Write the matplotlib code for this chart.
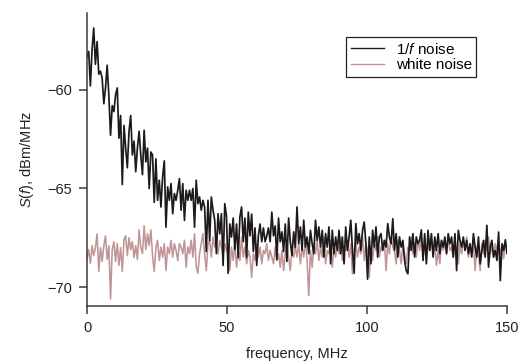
import numpy as np
import matplotlib
matplotlib.use("Agg")
import matplotlib.pyplot as plt

plt.rcParams["font.family"] = ["Liberation Sans", "DejaVu Sans"]
plt.rcParams["mathtext.fontset"] = "custom"
plt.rcParams["mathtext.it"] = "Liberation Sans:italic"
plt.rcParams["mathtext.rm"] = "Liberation Sans"

# spectral density, dBm/MHz, uniform grid 0..150 MHz
one_over_f = [
    -58.3, -58.05, -59.8, -57.96, -56.86, -58.7, -57.55, -59.2, -59.05, -59.4,
    -60.7, -59.9, -58.75, -60.3, -62.3, -60.8, -61.1, -60.25, -59.9, -62.45,
    -61.3, -64.8, -61.8, -62.95, -63.95, -62.1, -61.3, -63.3, -62.6, -64.15,
    -62.95, -62.1, -63.3, -64.3, -62.05, -63.65, -62.95, -65.0, -63.15, -63.3,
    -65.7, -63.5, -65.6, -64.58, -65.94, -64.41, -63.6, -66.96, -64.92, -65.6,
    -64.75, -66.28, -65.26, -65.6, -65.09, -64.5, -66.1, -64.75, -66.62, -65.09,
    -65.6, -65.09, -65.6, -65.0, -66.96, -64.58, -65.77, -65.43, -66.1, -65.6,
    -65.94, -68.2, -65.6, -67.64, -65.43, -66.1, -66.6, -68.3, -66.28, -67.3,
    -66.28, -68.9, -65.77, -66.4, -69.3, -66.8, -67.46, -66.5, -68.1, -66.8,
    -68.5, -66.44, -65.94, -67.7, -66.5, -68.5, -66.2, -67.4, -66.3, -68.2,
    -67.0, -68.9, -67.4, -66.8, -67.7, -67.0, -67.7, -67.4, -67.0, -67.7,
    -66.2, -67.4, -66.9, -68.6, -66.5, -67.7, -67.2, -68.2, -66.8, -68.7,
    -66.5, -67.7, -68.4, -67.2, -68.0, -65.94, -67.8, -66.95, -68.14, -66.61,
    -67.97, -67.46, -68.31, -67.12, -67.8, -68.31, -66.61, -67.63, -66.95, -67.97,
    -67.12, -68.48, -67.29, -67.97, -66.95, -68.82, -67.12, -68.31, -67.46, -68.14,
    -67.12, -68.31, -67.46, -68.82, -66.95, -68.14, -67.46, -66.61, -68.14, -69.3,
    -66.78, -67.8, -67.29, -68.14, -67.12, -66.7, -67.8, -69.6, -67.46, -68.82,
    -67.12, -67.97, -66.95, -68.48, -67.46, -67.29, -68.14, -67.63, -67.97, -66.78,
    -67.46, -67.8, -66.53, -68.14, -67.29, -68.48, -67.46, -67.97, -67.63, -68.65,
    -69.16, -69.33, -67.46, -68.14, -67.29, -68.48, -67.46, -67.8, -67.63, -67.1,
    -68.65, -67.29, -68.82, -67.12, -68.14, -67.29, -68.48, -67.46, -68.14, -67.29,
    -68.31, -67.63, -67.97, -67.46, -68.31, -67.29, -67.8, -67.46, -68.48, -67.29,
    -69.16, -67.12, -67.63, -67.97, -67.46, -68.14, -67.63, -68.31, -67.8, -68.48,
    -67.29, -67.97, -68.48, -67.46, -68.82, -68.14, -67.63, -68.48, -66.87, -68.99,
    -67.97, -67.63, -68.48, -68.14, -68.65, -67.21, -69.67, -67.8, -68.14, -67.6,
    -68.3,
]

white = [
    -68.6, -68.1, -68.8, -67.9, -68.4, -68.0, -67.3, -69.2, -68.0, -68.7,
    -67.9, -67.4, -68.6, -67.9, -70.6, -68.1, -67.7, -68.7, -67.8, -68.9,
    -68.0, -69.2, -67.6, -67.4, -68.4, -67.5, -68.1, -67.7, -68.5, -67.9,
    -68.6, -67.1, -68.0, -68.3, -66.9, -68.1, -67.3, -67.9, -67.1, -68.4,
    -69.2, -68.0, -67.63, -68.65, -67.97, -68.48, -67.8, -69.16, -67.97, -68.31,
    -67.63, -68.48, -67.8, -68.14, -68.65, -67.8, -67.97, -68.31, -67.63, -68.99,
    -67.97, -68.31, -67.63, -68.48, -67.29, -68.99, -69.3, -68.31, -67.8, -67.29,
    -68.31, -69.16, -67.8, -67.63, -68.48, -67.46, -67.97, -67.8, -68.31, -67.63,
    -67.97, -68.48, -67.8, -68.14, -68.31, -69.16, -67.97, -68.65, -67.8, -68.99,
    -68.14, -68.65, -67.46, -68.48, -67.97, -68.82, -68.14, -68.48, -69.5, -68.31,
    -68.65, -67.8, -68.48, -67.97, -68.82, -68.14, -68.31, -67.8, -68.65, -68.14,
    -68.48, -68.82, -67.97, -68.65, -68.31, -68.99, -68.14, -69.16, -68.31, -67.8,
    -68.48, -69.16, -68.14, -68.48, -67.97, -68.48, -67.8, -68.82, -67.97, -68.48,
    -67.63, -68.65, -70.43, -68.14, -68.99, -67.8, -68.31, -67.63, -68.65, -67.97,
    -68.48, -67.46, -68.82, -68.14, -68.31, -67.63, -68.99, -67.97, -68.48, -67.8,
    -68.31, -67.46, -68.65, -67.97, -68.14, -67.63, -68.48, -67.8, -69.33, -68.14,
    -67.63, -68.48, -67.97, -68.31, -67.46, -68.65, -67.8, -68.14, -69.5, -67.97,
    -68.65, -67.8, -68.14, -67.46, -68.48, -67.97, -68.14, -67.63, -69.16, -67.8,
    -68.31, -67.46, -67.97, -68.14, -68.82, -67.63, -68.14, -68.82, -67.8, -68.31,
    -68.82, -67.97, -68.14, -67.46, -68.31, -67.8, -68.48, -67.63, -68.14, -67.46,
    -68.31, -67.97, -68.65, -67.8, -68.14, -67.63, -68.31, -67.8, -68.9, -68.14,
    -68.82, -67.63, -68.14, -67.8, -68.31, -67.46, -68.14, -67.97, -68.48, -67.63,
    -68.14, -68.82, -67.8, -68.31, -67.63, -68.14, -67.46, -68.48, -67.97, -68.31,
    -67.8, -69.16, -67.97, -68.14, -69.16, -67.8, -68.31, -67.63, -68.14, -67.46,
    -68.31, -67.97, -68.48, -67.8, -68.14, -67.63, -68.31, -67.97, -68.56, -67.8,
    -68.14,
]

x_ticks = [0, 50, 100, 150]
y_ticks = [-70, -65, -60]

f_black = np.linspace(0, 150, len(one_over_f))
f_white = np.linspace(0, 150, len(white))

fig = plt.figure(figsize=(5.22, 3.63), dpi=100)
ax = fig.add_axes([0.1667, 0.157, 0.8046, 0.8072])

spine_col = "#3a3a3a"
l_white, = ax.plot(f_white, white, color="#c09596", lw=1.15, label="white noise")
l_black, = ax.plot(f_black, one_over_f, color="#1e1a1b", lw=1.25, label=r"1/$f$ noise")

ax.set_xlim(0, 150)
ax.set_ylim(-70.96, -56.1)
ax.set_xticks(x_ticks)
ax.set_yticks(y_ticks)

for s in ["top", "right"]:
    ax.spines[s].set_visible(False)
for s in ["left", "bottom"]:
    ax.spines[s].set_color(spine_col)
    ax.spines[s].set_linewidth(1.1)
ax.tick_params(direction="out", length=5.5, width=1.1, color=spine_col,
               labelsize=10.5, pad=5, labelcolor="#222222")

ax.set_xlabel("frequency, MHz", fontsize=10.5, color="#222222", labelpad=9)
ax.set_ylabel(r"$S$($f$), dBm/MHz", fontsize=10.5, color="#222222", labelpad=8)

leg = ax.legend(handles=[l_black, l_white], loc="upper left",
                bbox_to_anchor=(346 / 522, 1 - 37 / 363),
                bbox_transform=fig.transFigure, borderaxespad=0,
                fontsize=11, fancybox=False, framealpha=1,
                handlelength=2.2, handletextpad=0.75, borderpad=0.3,
                labelspacing=0.1)
leg.get_frame().set_edgecolor("#222222")
leg.get_frame().set_linewidth(0.9)
for h in leg.legend_handles:
    h.set_linewidth(1.0)

fig.savefig("out.png", dpi=100)
